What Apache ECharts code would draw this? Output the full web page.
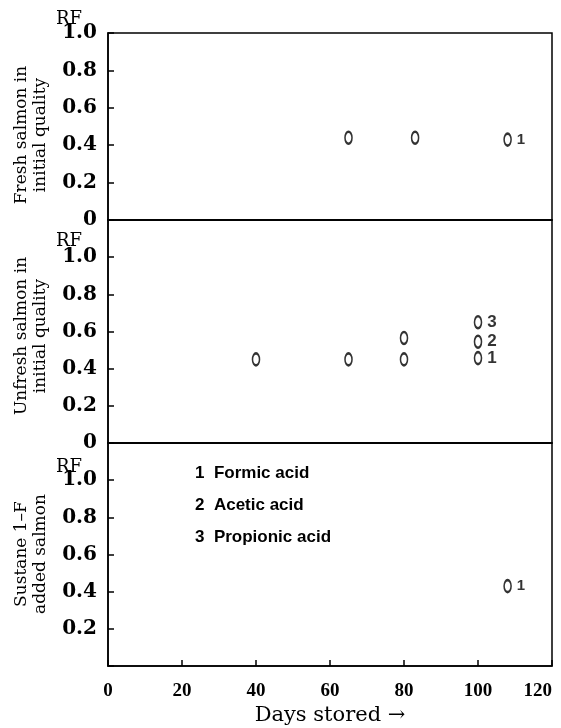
<!DOCTYPE html>
<html>
<head>
<meta charset="utf-8">
<script src="https://cdn.jsdelivr.net/npm/echarts@6/dist/echarts.min.js"></script>
<style>html,body{margin:0;padding:0;background:#fff}#c{width:561px;height:728px}</style>
</head>
<body>
<div id="c"></div>
<script>
// ---- data ----
var xTicks = [0, 20, 40, 60, 80, 100, 120];
var panelNames = ['Fresh salmon in\ninitial quality', 'Unfresh salmon in\ninitial quality', 'Sustane 1\u2013F\nadded salmon'];
var yAxisTitle = 'RF';
var xAxisTitle = 'Days stored \u2192';
var legendLines = ['1  Formic acid', '2  Acetic acid', '3  Propionic acid'];

var panel1Days = [65, 83, 108];
var panel1Rf = [0.44, 0.44, 0.43];
var panel1Labels = ['', '', '1'];

var panel2Days = [40, 65, 80, 80, 100, 100, 100];
var panel2Rf = [0.45, 0.45, 0.45, 0.565, 0.457, 0.545, 0.65];
var panel2Labels = ['', '', '', '', '1', '2', '3'];

var panel3Days = [108];
var panel3Rf = [0.43];
var panel3Labels = ['1'];

// ---- chart ----
var chart = echarts.init(document.getElementById('c'), null, {renderer: 'canvas'});
var SERIF = '"DejaVu Serif", serif';
var LSERIF = '"Liberation Serif", "Times New Roman", serif';
var SANS = '"Liberation Sans", Arial, sans-serif';

function build(days, rf, labels) {
  return days.map(function (d, i) { return {value: [d, rf[i]], name: labels[i]}; });
}

var grids = [
  {left: 108, top: 33, width: 444, height: 187},
  {left: 108, top: 220, width: 444, height: 223},
  {left: 108, top: 443, width: 444, height: 223}
].map(function (g) {
  g.show = true; g.borderColor = '#000'; g.borderWidth = 1.5; g.backgroundColor = 'transparent';
  g.containLabel = false; g.outerBoundsMode = 'none';
  return g;
});

var xAxes = [0, 1, 2].map(function (i) {
  var last = i === 2;
  return {
    type: 'value', gridIndex: i, min: 0, max: 120, interval: 20,
    axisLine: {show: true, lineStyle: {color: '#000', width: 1.5}},
    axisTick: {show: last, inside: true, length: 6, lineStyle: {color: '#000', width: 1.5}},
    axisLabel: {show: last, color: '#000', fontFamily: LSERIF, fontWeight: 'bold', fontSize: 19, margin: 16,
                alignMaxLabel: 'right'},
    splitLine: {show: false},
    name: last ? xAxisTitle : '',
    nameLocation: 'middle', nameGap: 39,
    nameTextStyle: {color: '#000', fontFamily: SERIF, fontSize: 21}
  };
});

var yMax = [1.0, 1.2, 1.2];
var yAxes = [0, 1, 2].map(function (i) {
  return {
    type: 'value', gridIndex: i, min: 0, max: yMax[i], interval: 0.2,
    axisLine: {show: true, lineStyle: {color: '#000', width: 1.5}},
    axisTick: {show: true, inside: true, length: 6, lineStyle: {color: '#000', width: 1.5}},
    axisLabel: {
      color: '#000', fontFamily: SERIF, fontSize: 20, fontWeight: 'bold', margin: 11,
      formatter: function (v) {
        if (v > 1.01) return '';
        if (Math.abs(v) < 1e-9) return i === 2 ? '' : '0';
        return v.toFixed(1);
      }
    },
    splitLine: {show: false}
  };
});

function spotSeries(idx, data) {
  return {
    type: 'scatter', xAxisIndex: idx, yAxisIndex: idx,
    symbol: 'emptyCircle', symbolSize: [7, 12],
    itemStyle: {color: '#000', borderColor: '#000', borderWidth: 1.2},
    label: {show: true, position: 'right', distance: 5, formatter: '{b}',
            color: '#000', fontFamily: SANS, fontWeight: 'bold', fontSize: idx === 1 ? 17 : 15},
    data: data
  };
}

var graphics = [];
var nameCenters = [135, 336, 554];
var rfCenters = [19, 241, 467];
for (var i = 0; i < 3; i++) {
  graphics.push({
    type: 'text', x: 31, y: nameCenters[i], rotation: Math.PI / 2,
    style: {text: panelNames[i], fontFamily: SERIF, fontSize: 17, lineHeight: 19,
            fill: '#000', align: 'center', verticalAlign: 'middle',
            textAlign: 'center', textVerticalAlign: 'middle'}
  });
  graphics.push({
    type: 'text', x: 69, y: rfCenters[i],
    style: {text: yAxisTitle, fontFamily: SERIF, fontSize: 18, fill: '#000',
            align: 'center', verticalAlign: 'middle', textAlign: 'center', textVerticalAlign: 'middle'}
  });
}
var legendY = [473, 505, 537];
legendLines.forEach(function (t, k) {
  graphics.push({
    type: 'text', x: 195, y: legendY[k],
    style: {text: t, fontFamily: SANS, fontWeight: 'bold', fontSize: 17, fill: '#000',
            align: 'left', verticalAlign: 'middle', textAlign: 'left', textVerticalAlign: 'middle'}
  });
});

chart.setOption({
  animation: false,
  backgroundColor: '#fff',
  grid: grids,
  xAxis: xAxes,
  yAxis: yAxes,
  graphic: graphics,
  series: [
    spotSeries(0, build(panel1Days, panel1Rf, panel1Labels)),
    spotSeries(1, build(panel2Days, panel2Rf, panel2Labels)),
    spotSeries(2, build(panel3Days, panel3Rf, panel3Labels))
  ]
});
</script>
</body>
</html>
